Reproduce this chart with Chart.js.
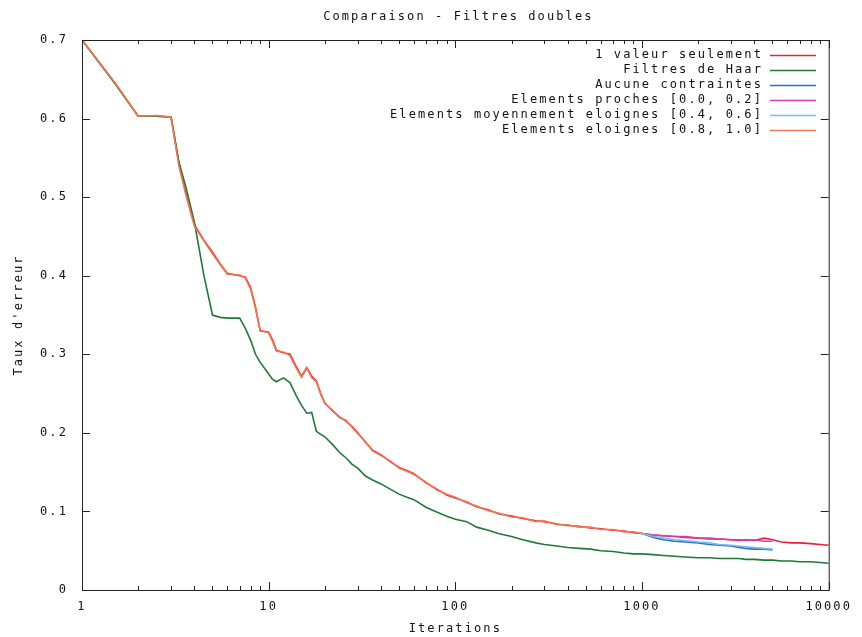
<!DOCTYPE html>
<html>
<head>
<meta charset="utf-8">
<script src="https://cdn.jsdelivr.net/npm/chart.js@4/dist/chart.umd.min.js"></script>
<style>
  html, body { margin: 0; padding: 0; background: #fff; }
  #wrap { width: 862px; height: 637px; }
</style>
</head>
<body>
<div id="wrap"><canvas id="myChart" width="862" height="637"></canvas></div>
<script>
const titleText = 'Comparaison - Filtres doubles';
const xTitle = 'Iterations';
const yTitle = "Taux d'erreur";
const xTickVals = [1, 10, 100, 1000, 10000];
const yTickVals = [0, 0.1, 0.2, 0.3, 0.4, 0.5, 0.6, 0.7];

const labels = [
  '1 valeur seulement',
  'Filtres de Haar',
  'Aucune contraintes',
  'Elements proches [0.0, 0.2]',
  'Elements moyennement eloignes [0.4, 0.6]',
  'Elements eloignes [0.8, 1.0]'
];
const colors = ['#e8203a', '#1f7a3a', '#2a6fc8', '#d63cb4', '#70c0f0', '#f07a50'];

// iterations (x) for the full runs
const iterMain = [1, 1.5, 2, 2.5, 3, 3.3, 3.6, 4, 4.5, 5, 5.5, 6, 7, 7.5, 8, 8.5, 9, 10, 10.5, 11,
  12, 13, 14, 15, 16, 17, 18, 19, 20, 22, 24, 26, 28, 30, 33, 36, 40, 45, 50, 55,
  60, 70, 80, 90, 100, 115, 130, 150, 170, 200, 230, 270, 300, 350, 400, 460, 530, 600, 700, 800,
  900, 1000, 1150, 1300, 1500, 1700, 2000, 2300, 2600, 3000, 3300, 3600, 4000, 4500, 5000, 5600, 6300, 7000, 8000, 9000,
  10000];
// iterations for the runs that stop at 5000
const iterTail = [1000, 1150, 1300, 1500, 1700, 2000, 2300, 2600, 3000, 3300, 3600, 4000, 4500, 5000];

const errUnique = [0.700, 0.645, 0.603, 0.603, 0.602, 0.545, 0.505, 0.465, 0.445, 0.430, 0.415, 0.403, 0.400, 0.398, 0.385, 0.360, 0.330, 0.328, 0.318, 0.305,
  0.302, 0.300, 0.285, 0.272, 0.283, 0.272, 0.266, 0.250, 0.238, 0.228, 0.220, 0.215, 0.208, 0.200, 0.188, 0.178, 0.172, 0.163, 0.156, 0.152,
  0.148, 0.136, 0.128, 0.121, 0.117, 0.112, 0.106, 0.102, 0.097, 0.094, 0.091, 0.088, 0.087, 0.084, 0.082, 0.081, 0.079, 0.078, 0.076, 0.075,
  0.073, 0.072, 0.070, 0.069, 0.068, 0.067, 0.066, 0.065, 0.065, 0.064, 0.063, 0.064, 0.063, 0.066, 0.064, 0.061, 0.060, 0.060, 0.059, 0.058,
  0.057];
const errHaar = [0.700, 0.645, 0.603, 0.603, 0.602, 0.545, 0.513, 0.468, 0.400, 0.350, 0.347, 0.346, 0.346, 0.333, 0.318, 0.300, 0.290, 0.275, 0.268, 0.265,
  0.270, 0.264, 0.248, 0.235, 0.225, 0.226, 0.202, 0.198, 0.195, 0.185, 0.175, 0.168, 0.160, 0.155, 0.145, 0.140, 0.135, 0.128, 0.122, 0.118,
  0.115, 0.105, 0.099, 0.094, 0.090, 0.087, 0.080, 0.076, 0.072, 0.068, 0.064, 0.060, 0.058, 0.056, 0.054, 0.053, 0.052, 0.050, 0.049, 0.047,
  0.046, 0.046, 0.045, 0.044, 0.043, 0.042, 0.041, 0.041, 0.040, 0.040, 0.040, 0.039, 0.039, 0.038, 0.038, 0.037, 0.037, 0.036, 0.036, 0.035,
  0.034];
const errAucune = [0.072, 0.067, 0.064, 0.062, 0.061, 0.060, 0.058, 0.057, 0.056, 0.054, 0.053, 0.052, 0.052, 0.051];
const errProches = [0.072, 0.070, 0.069, 0.068, 0.068, 0.066, 0.066, 0.065, 0.064, 0.064, 0.063, 0.064, 0.062, 0.062];
const errMoyen = [0.072, 0.068, 0.066, 0.064, 0.063, 0.061, 0.060, 0.058, 0.057, 0.056, 0.055, 0.054, 0.053, 0.052];
// eloignes: same iterations as iterMain, up to 1000
const errEloignes = [0.700, 0.646, 0.603, 0.604, 0.602, 0.540, 0.503, 0.463, 0.444, 0.428, 0.414, 0.402, 0.401, 0.397, 0.383, 0.358, 0.331, 0.327, 0.316, 0.304,
  0.303, 0.298, 0.283, 0.271, 0.282, 0.270, 0.265, 0.249, 0.237, 0.229, 0.219, 0.216, 0.207, 0.199, 0.189, 0.177, 0.171, 0.164, 0.155, 0.151,
  0.147, 0.137, 0.127, 0.122, 0.118, 0.111, 0.107, 0.101, 0.098, 0.093, 0.092, 0.087, 0.088, 0.083, 0.083, 0.080, 0.080, 0.077, 0.077, 0.074,
  0.074, 0.072];

const pts = (xs, ys) => ys.map((v, i) => ({ x: xs[i], y: v }));

const FONT = 'DejaVu Sans Mono';
const FSIZE = 12;
const SPACING = '2.1px';
const TXT = '#111';

const monoSpacing = {
  id: 'monoSpacing',
  beforeUpdate(chart) { chart.ctx.letterSpacing = SPACING; },
  beforeDraw(chart) { chart.ctx.letterSpacing = SPACING; }
};

// gnuplot style frame, inner ticks, title and legend
const gnuFrame = {
  id: 'gnuFrame',
  afterDraw(chart) {
    const { ctx, chartArea: a, scales } = chart;
    const xs = scales.x, ys = scales.y;
    ctx.save();
    ctx.strokeStyle = '#222';
    ctx.lineWidth = 1;
    ctx.strokeRect(a.left + 0.5, a.top + 0.5, a.right - a.left, a.bottom - a.top);

    const seg = (x1, y1, x2, y2) => { ctx.beginPath(); ctx.moveTo(x1, y1); ctx.lineTo(x2, y2); ctx.stroke(); };

    yTickVals.forEach(v => {
      const py = Math.round(ys.getPixelForValue(v)) + 0.5;
      seg(a.left, py, a.left + 8, py);
      seg(a.right, py, a.right - 8, py);
    });
    [1, 10, 100, 1000].forEach(d => {
      for (let m = 1; m <= 10; m++) {
        const px = Math.round(xs.getPixelForValue(d * m)) + 0.5;
        const len = (m === 1 || m === 10) ? 8 : 4;
        seg(px, a.bottom, px, a.bottom - len);
        seg(px, a.top, px, a.top + len);
      }
    });

    ctx.letterSpacing = SPACING;
    ctx.fillStyle = TXT;
    ctx.font = FSIZE + 'px "' + FONT + '"';
    ctx.textBaseline = 'middle';
    ctx.textAlign = 'center';
    ctx.fillText(titleText, (a.left + a.right) / 2 + 3, 17);

    ctx.textAlign = 'right';
    labels.forEach((t, i) => {
      const y = 55 + i * 15;
      ctx.fillStyle = TXT;
      ctx.fillText(t, 763, y);
      ctx.strokeStyle = colors[i];
      ctx.lineWidth = 1.5;
      seg(770, y + 0.5, 816, y + 0.5);
    });
    ctx.restore();
  }
};

const mk = (i, data, order) => ({
  label: labels[i],
  data: data,
  borderColor: colors[i],
  backgroundColor: colors[i],
  borderWidth: 1.6,
  pointRadius: 0,
  tension: 0,
  order: order
});

const tickFont = { family: FONT, size: FSIZE };

new Chart(document.getElementById('myChart'), {
  type: 'line',
  data: {
    datasets: [
      mk(0, pts(iterMain, errUnique), 5),
      mk(1, pts(iterMain, errHaar), 4),
      mk(2, pts(iterTail, errAucune), 2),
      mk(3, pts(iterTail, errProches), 3),
      mk(4, pts(iterTail, errMoyen), 1),
      mk(5, pts(iterMain, errEloignes), 0)
    ]
  },
  options: {
    responsive: false,
    animation: false,
    layout: { padding: { top: 40, right: 33, left: 0, bottom: 0 } },
    plugins: { legend: { display: false }, tooltip: { enabled: false }, title: { display: false } },
    scales: {
      x: {
        type: 'logarithmic',
        min: 1,
        max: 10000,
        afterBuildTicks: s => { s.ticks = xTickVals.map(v => ({ value: v })); },
        afterFit: s => { s.height = 47; },
        grid: { display: false, drawTicks: false },
        border: { display: false },
        ticks: {
          color: TXT, font: tickFont, padding: 10,
          maxRotation: 0, autoSkip: false,
          callback: v => String(v)
        },
        title: { display: true, text: xTitle, color: TXT, font: tickFont, padding: { top: 0, bottom: 1 } }
      },
      y: {
        min: 0,
        max: 0.7,
        afterBuildTicks: s => { s.ticks = yTickVals.map(v => ({ value: v })); },
        afterFit: s => { s.width = 82; },
        grid: { display: false, drawTicks: false },
        border: { display: false },
        ticks: {
          color: TXT, font: tickFont, padding: 14,
          callback: v => v === 0 ? '0' : v.toFixed(1)
        },
        title: { display: true, text: yTitle, color: TXT, font: tickFont, padding: { top: 12, bottom: 0 } }
      }
    }
  },
  plugins: [monoSpacing, gnuFrame]
});
</script>
</body>
</html>
